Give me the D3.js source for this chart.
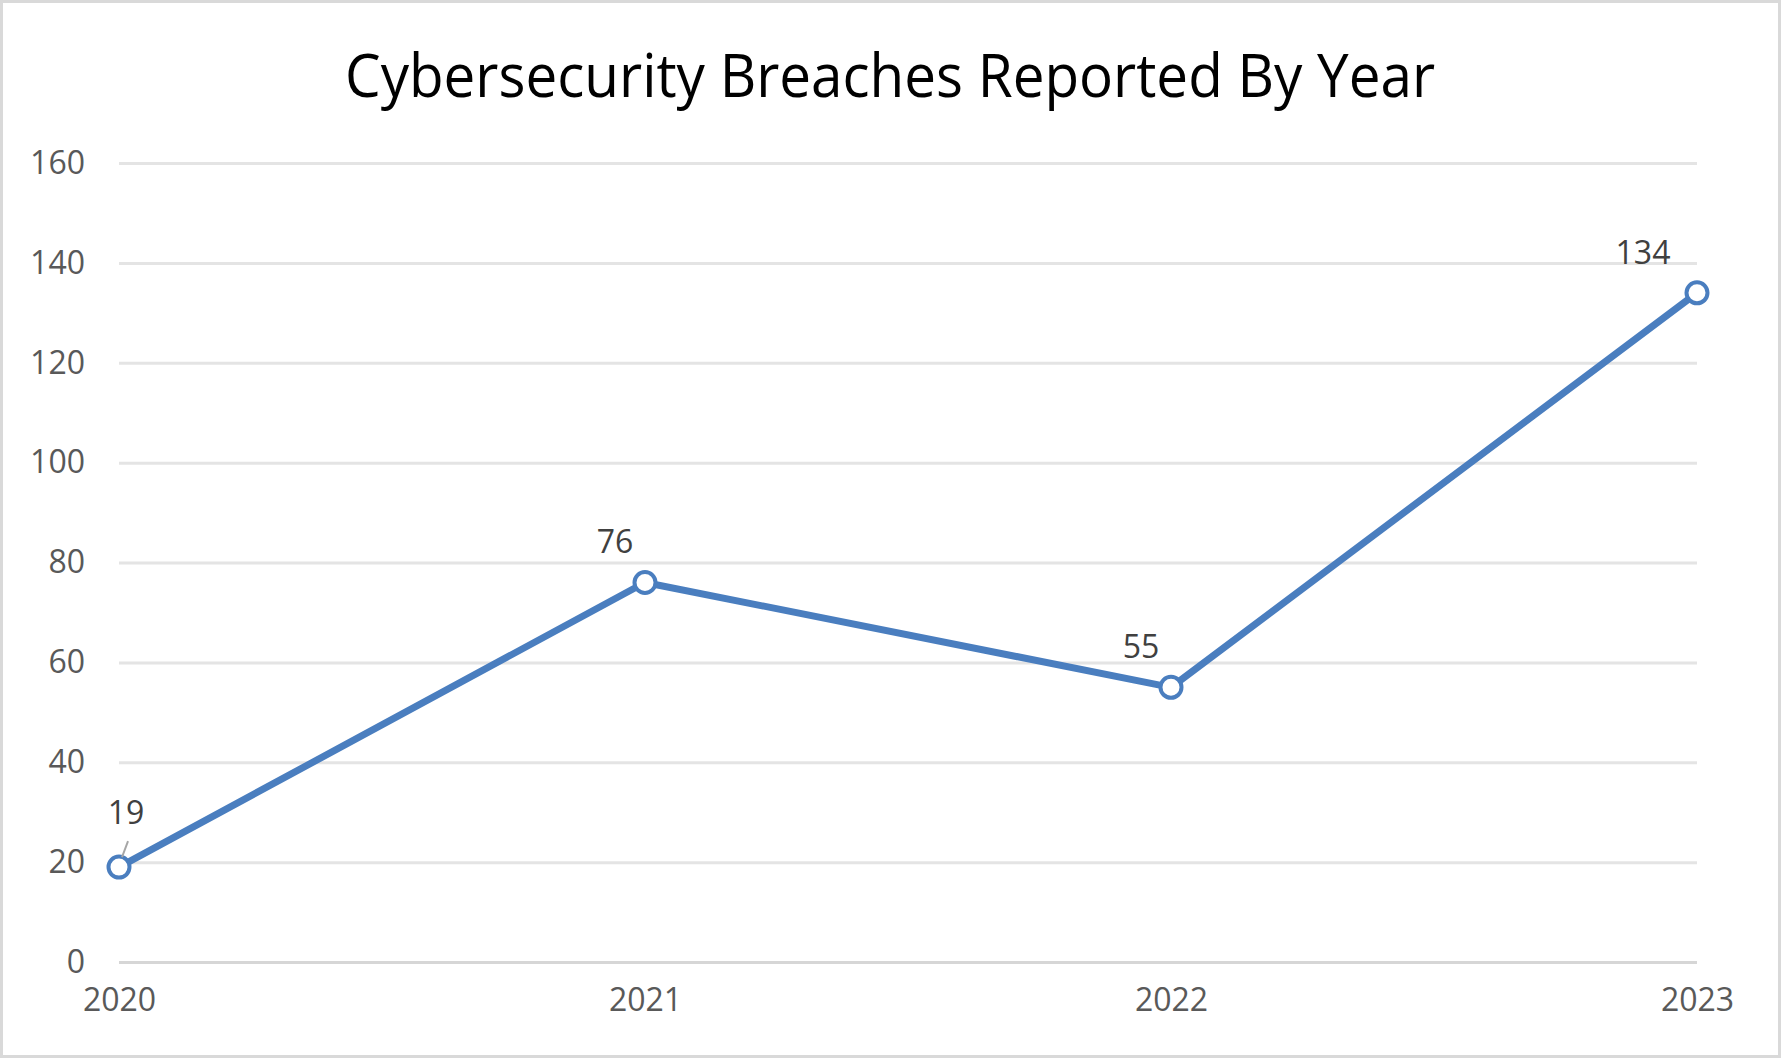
<!DOCTYPE html>
<html>
<head>
<meta charset="utf-8">
<script src="https://cdn.jsdelivr.net/npm/d3@7"></script>
<style>
  body { margin: 0; background: #fff; }
  text { font-family: "Open Sans", sans-serif; }
</style>
</head>
<body>
<script>
var years = [2020, 2021, 2022, 2023];
var breaches = [19, 76, 55, 134];
var yTicks = [0, 20, 40, 60, 80, 100, 120, 140, 160];
var title = "Cybersecurity Breaches Reported By Year";

var width = 1781,
    height = 1058;

var margin = {
    top: 163,
    right: 84,
    bottom: 96,
    left: 119
};

var svg = d3.select("body").append("svg")
    .attr("width", width)
    .attr("height", height);

// chart border
svg.append("rect")
    .attr("x", 1.5)
    .attr("y", 1.5)
    .attr("width", width - 3)
    .attr("height", height - 3)
    .attr("fill", "#fff")
    .attr("stroke", "#d9d9d9")
    .attr("stroke-width", 3);

var x = d3.scalePoint()
    .domain(years)
    .range([margin.left, width - margin.right]);

var y = d3.scaleLinear()
    .domain([0, 160])
    .range([height - margin.bottom, margin.top]);

svg.append("text")
    .attr("x", 890)
    .attr("y", 97)
    .attr("text-anchor", "middle")
    .attr("font-size", 61)
    .attr("fill", "#000")
    .attr("textLength", 1090)
    .attr("lengthAdjust", "spacingAndGlyphs")
    .text(title);

// gridlines + y labels
var yAxis = svg.append("g")
    .attr("transform", "translate(" + margin.left + ",0)")
    .call(d3.axisLeft(y)
        .tickValues(yTicks)
        .tickSize(-(width - margin.left - margin.right))
        .tickPadding(34));

yAxis.select(".domain").remove();
yAxis.selectAll(".tick line")
    .attr("stroke", function (d) {
        return d === 0 ? "#d6d6d6" : "#e4e4e4";
    })
    .attr("stroke-width", 3);
yAxis.selectAll(".tick text")
    .attr("font-size", 32)
    .attr("fill", "#595959")
    .attr("font-family", "Open Sans, sans-serif");

// x labels
var xAxis = svg.append("g")
    .attr("transform", "translate(0," + (height - margin.bottom) + ")")
    .call(d3.axisBottom(x).tickSize(0).tickPadding(26));

xAxis.select(".domain").remove();
xAxis.selectAll(".tick text")
    .attr("font-size", 32)
    .attr("fill", "#595959")
    .attr("font-family", "Open Sans, sans-serif");

var pts = years.map(function (d, i) {
    return { year: d, value: breaches[i] };
});

var line = d3.line()
    .x(function (d) { return x(d.year); })
    .y(function (d) { return y(d.value); });

svg.append("path")
    .datum(pts)
    .attr("fill", "none")
    .attr("stroke", "#4a7ebf")
    .attr("stroke-width", 7)
    .attr("stroke-linejoin", "round")
    .attr("d", line);

svg.selectAll(".dot")
    .data(pts)
    .enter().append("circle")
    .attr("class", "dot")
    .attr("cx", function (d) { return x(d.year); })
    .attr("cy", function (d) { return y(d.value); })
    .attr("r", 10.5)
    .attr("fill", "#fff")
    .attr("stroke", "#4a7ebf")
    .attr("stroke-width", 4);

// data labels, kept inside plot area
var x0 = x.range()[0], x1 = x.range()[1];
function labelX(d) {
    return Math.max(x0 + 7, Math.min(x1 - 54, x(d.year) - 30));
}
function labelY(d, i) {
    return y(d.value) - (i === 0 ? 43 : 29);
}

svg.selectAll(".lbl")
    .data(pts)
    .enter().append("text")
    .attr("class", "lbl")
    .attr("x", labelX)
    .attr("y", labelY)
    .attr("text-anchor", "middle")
    .attr("font-size", 32)
    .attr("fill", "#404040")
    .text(function (d) { return d.value; });

// leader line for the first (moved) label
var p0 = pts[0];
svg.append("line")
    .attr("x1", x(p0.year) + 9)
    .attr("y1", y(p0.value) - 26)
    .attr("x2", x(p0.year) + 3)
    .attr("y2", y(p0.value) - 10)
    .attr("stroke", "#a6a6a6")
    .attr("stroke-width", 2);
</script>
</body>
</html>
